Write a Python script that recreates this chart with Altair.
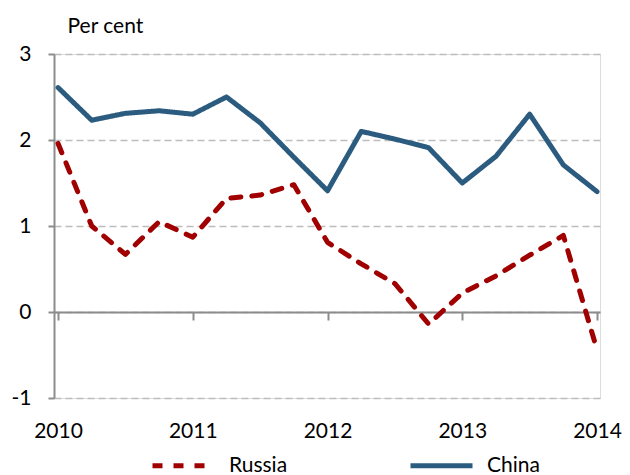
import altair as alt
import pandas as pd

years = [2010 + i * 0.25 for i in range(17)]
china = [2.61, 2.23, 2.31, 2.34, 2.30, 2.50, 2.20, 1.80, 1.41, 2.10, 2.01, 1.91, 1.50, 1.81, 2.30, 1.71, 1.40]
russia = [1.96, 1.00, 0.67, 1.05, 0.87, 1.32, 1.36, 1.48, 0.81, 0.56, 0.33, -0.14, 0.22, 0.42, 0.66, 0.89, -0.44]
series = ["Russia", "China"]
colors = ["#A00000", "#2B5C80"]
x_ticks = [2010, 2011, 2012, 2013, 2014]
y_ticks = [-1, 0, 1, 2, 3]

rows = []
for i, t in enumerate(years):
    rows.append({"t": t, "series": "Russia", "v": russia[i]})
    rows.append({"t": t, "series": "China", "v": china[i]})
df = pd.DataFrame(rows)

FONT = "Lato"

base = alt.Chart(df)

lines = base.mark_line(strokeWidth=5, strokeCap="round", strokeJoin="round").encode(
    x=alt.X("t:Q",
            scale=alt.Scale(domain=[2009.97, 2014.022], nice=False, zero=False),
            axis=alt.Axis(values=x_ticks, format="d", title=None, grid=False,
                          offset=-86, domainColor="#8C8C8C", domainWidth=2,
                          tickColor="#8C8C8C", tickWidth=2, tickSize=8,
                          labelPadding=100, labelFontSize=21, labelFont=FONT,
                          labelColor="#000000", labelFlush=False)),
    y=alt.Y("v:Q",
            scale=alt.Scale(domain=[-1, 3], nice=False),
            axis=alt.Axis(values=y_ticks, title="Per cent", titleAngle=0,
                          titleAlign="left", titleBaseline="alphabetic",
                          titleX=13, titleY=-22, titleFont=FONT, titleFontSize=21,
                          titleFontWeight="normal", titleColor="#000000",
                          domainColor="#8C8C8C", domainWidth=2,
                          tickColor="#8C8C8C", tickWidth=2, tickSize=6,
                          labelPadding=17, labelFontSize=21, labelFont=FONT,
                          labelColor="#000000",
                          labelExpr="datum.value < 0 ? '-' + toString(-datum.value) : datum.label",
                          grid=True, gridDash=[7, 4], gridColor="#BDBDBD",
                          gridWidth=1.5)),
    color=alt.Color("series:N", scale=alt.Scale(domain=series, range=colors),
                    legend=alt.Legend(title=None, orient="none", direction="horizontal",
                                      legendX=96, legendY=378,
                                      symbolType="stroke", symbolSize=3844,
                                      symbolStrokeWidth=5, labelOffset=12,
                                      columnPadding=112, labelFontSize=21,
                                      labelFont=FONT, labelColor="#000000",
                                      padding=0)),
    strokeDash=alt.StrokeDash("series:N",
                              scale=alt.Scale(domain=series, range=[[10, 11], [1, 0]]),
                              legend=None),
    detail="series:N",
)

chart = lines.properties(
    width=546, height=344,
    autosize=alt.AutoSizeParams(type="none"),
    padding={"left": 46, "top": 46, "right": 22, "bottom": 77},
).configure_view(stroke=None).configure(background="white")

chart.save("out.html", embed_options={"renderer": "svg", "actions": False})
